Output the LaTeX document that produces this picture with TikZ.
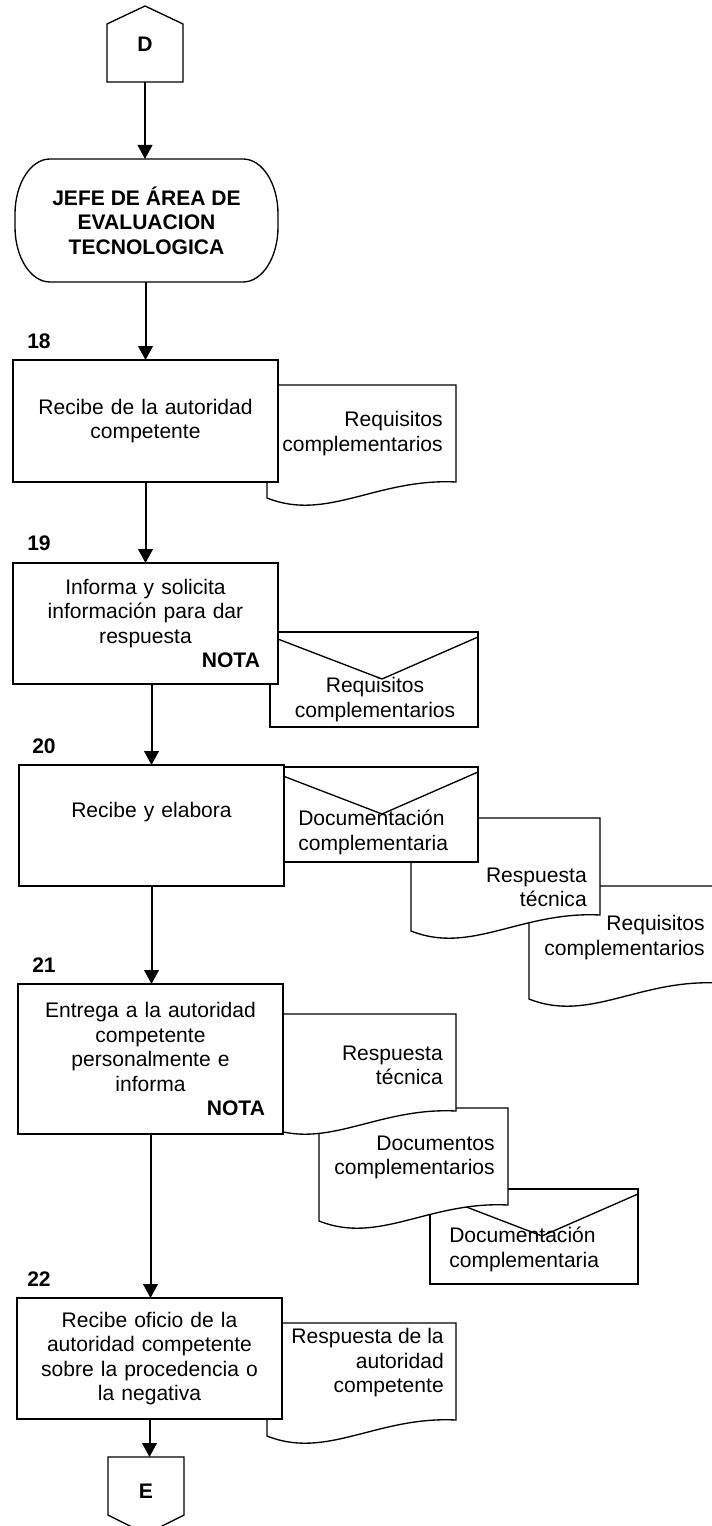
\documentclass[tikz,border=0pt]{standalone}
\usepackage{fontspec}
\setmainfont{Liberation Sans}
\usetikzlibrary{arrows.meta,calc}

% document symbol: wavy bottom edge, top-left corner given by a named coordinate
\newcommand\docform[1]{%
  \filldraw[shapeline] (#1) -- ($(#1)+(189,0)$) -- ($(#1)+(189,97)$)
    .. controls ($(#1)+(110,93)$) and ($(#1)+(60,137)$) .. ($(#1)+(0,113)$) -- cycle;}
% envelope symbol (mail), top-left corner given by a named coordinate
\newcommand\envform[1]{%
  \filldraw[shapeline] (#1) rectangle ($(#1)+(208,95)$);
  \draw[shapeline] ($(#1)+(0,4)$) -- ($(#1)+(112,47)$) -- ($(#1)+(208,5)$);}

\tikzset{
  txt/.style={font=\fontsize{15.8pt}{18.4pt}\selectfont},
  bold/.style={font=\fontsize{15.8pt}{18.4pt}\selectfont\bfseries},
  shapeline/.style={draw=black, line width=1pt, fill=white},
  stepbox/.style={shapeline, rectangle, inner sep=0pt, outer sep=0pt,
    minimum width=198.75pt, anchor=north west, text width=171.75pt,
    align=center, txt},
  terminal/.style={rectangle, inner sep=0pt,
    outer sep=0pt, minimum width=197.25pt, minimum height=92.25pt,
    anchor=north west, align=center, bold},
  connector/.style={rectangle, inner sep=0pt, outer sep=0pt, minimum width=57pt,
    anchor=north west, bold},
  stepnum/.style={bold, inner sep=0pt},
  doctext/.style={txt, align=right, anchor=east, inner sep=0pt},
  envtext/.style={txt, inner sep=0pt},
  arr/.style={line width=1.5pt, -{Triangle[length=10.5pt,width=11pt]}},
  corner/.style={x radius=26.25pt, y radius=41.25pt},
}

\newcommand\nota{\makebox[171.75pt][r]{\bfseries NOTA}}

\begin{document}
\begin{tikzpicture}[x=0.75pt, y=-0.75pt]
\useasboundingbox (0,0) rectangle (712,1526);
\clip (0,0) rectangle (712,1526);

% off-page connector D
\node[connector, minimum height=57pt] (D) at (107,6) {D};
\draw[line width=1pt] (D.south west) -- ($(D.north west)+(0,18)$) -- (D.north)
  -- ($(D.north east)+(0,18)$) -- (D.south east) -- cycle;

% responsible area: rounded terminator with elliptic ends
\node[terminal] (term) at (15,159) {JEFE DE ÁREA DE\\EVALUACION\\TECNOLOGICA};
\draw[line width=1pt] ($(term.north west)+(35,0)$) -- ($(term.north east)+(-35,0)$)
  arc[start angle=90, end angle=0, corner]
  -- ($(term.south east)+(0,-55)$)
  arc[start angle=0, end angle=-90, corner]
  -- ($(term.south west)+(35,0)$)
  arc[start angle=270, end angle=180, corner]
  -- ($(term.north west)+(0,55)$)
  arc[start angle=180, end angle=90, corner] -- cycle;

% step 18
\coordinate (d18) at (267,385);
\docform{d18}
\node[stepbox, minimum height=91.5pt] (b18) at (13,360)
  {Recibe de la autoridad\\competente};
\node[doctext] (t18) at (443,433.5) {Requisitos\\complementarios};
\node[stepnum] (n18) at (39,341) {18};

% step 19
\coordinate (e19) at (270,632);
\envform{e19}
\node[stepbox, minimum height=90.75pt] (b19) at (13,563)
  {Informa y solicita\\información para dar\\respuesta\\\nota};
\node[envtext, align=center] (t19) at (375,699.5) {Requisitos\\complementarios};
\node[stepnum] (n19) at (39,543) {19};

% step 20
\coordinate (d20b) at (529,886);
\docform{d20b}
\coordinate (d20a) at (411,818);
\docform{d20a}
\coordinate (e20) at (270,767);
\envform{e20}
\node[stepbox, minimum height=90.75pt] (b20) at (19,765)
  {Recibe y elabora\\\strut};
\node[envtext, align=left, anchor=west] (t20e) at (298,832.5)
  {Documentación\\complementaria};
\node[doctext] (t20a) at (587,887.5) {Respuesta\\técnica};
\node[doctext] (t20b) at (705,937.5) {Requisitos\\complementarios};
\node[stepnum] (n20) at (44,746) {20};

% step 21
\coordinate (e21) at (430,1189);
\envform{e21}
\coordinate (d21b) at (319,1108);
\docform{d21b}
\coordinate (d21a) at (267,1014);
\docform{d21a}
\node[stepbox, minimum height=112.5pt] (b21) at (18,984)
  {Entrega a la autoridad\\competente\\personalmente e\\informa\\\nota};
\node[doctext] (t21a) at (443,1065.5) {Respuesta\\técnica};
\node[doctext] (t21b) at (495,1157.5) {Documentos\\complementarios};
\node[envtext, align=left, anchor=west] (t21e) at (449,1249.5)
  {Documentación\\complementaria};
\node[stepnum] (n21) at (44,965) {21};

% step 22
\coordinate (d22) at (267,1323);
\docform{d22}
\node[stepbox, minimum height=90.75pt] (b22) at (17,1298)
  {Recibe oficio de la\\autoridad competente\\sobre la procedencia o\\la negativa};
\node[doctext] (t22) at (444,1363) {Respuesta de la\\autoridad\\competente};
\node[stepnum] (n22) at (39,1279) {22};

% off-page connector E
\node[connector, minimum height=51pt] (E) at (108,1457) {E};
\draw[line width=1pt] (E.north west) -- ($(E.north west)+(0,58)$) -- ($(E.south)+(0,9)$)
  -- ($(E.north east)+(0,58)$) -- (E.north east) -- cycle;

% flow connectors
\draw[arr] (D.south) -- (D.south |- term.north);
\draw[arr] (term.south -| b18.north) -- (b18.north);
\draw[arr] (b18.south) -- (b19.north);
\draw[arr] (b19.south -| b20.north) -- (b20.north);
\draw[arr] (b20.south) -- (b20.south |- b21.north);
\draw[arr] (b21.south) -- (b21.south |- b22.north);
\draw[arr] (b22.south) -- (b22.south |- E.north);
\end{tikzpicture}
\end{document}
